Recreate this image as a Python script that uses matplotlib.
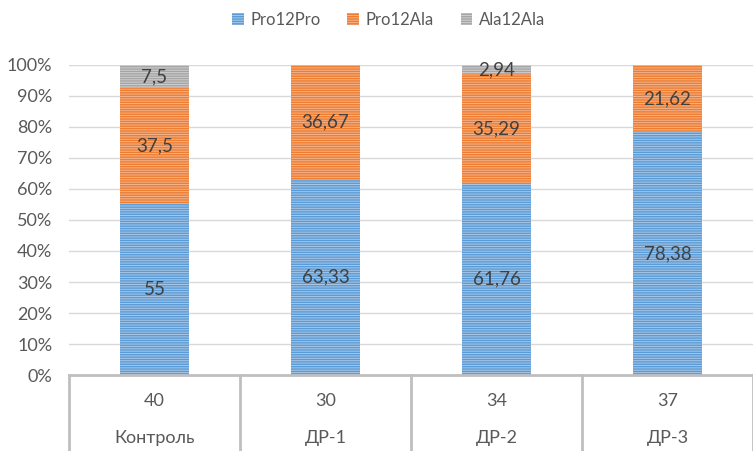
import numpy as np
import matplotlib
matplotlib.use('Agg')
from matplotlib import pyplot as plt

groups = ['Контроль', 'ДР-1', 'ДР-2', 'ДР-3']
counts = ['40', '30', '34', '37']
series = ['Pro12Pro', 'Pro12Ala', 'Ala12Ala']
pro_pro = [55, 63.33, 61.76, 78.38]
pro_ala = [37.5, 36.67, 35.29, 21.62]
ala_ala = [7.5, 0, 2.94, 0]

colors = ['#5B9BD5', '#ED7D31', '#A5A5A5']
stripes = ['#A9C8E8', '#F6B48C', '#CFCFCF']

plt.rcParams['font.family'] = ['Lato', 'DejaVu Sans']
plt.rcParams['hatch.linewidth'] = 0.7

fig = plt.figure(figsize=(7.53, 4.51), dpi=100)
ax = fig.add_axes([0.0916, 0.1685, 0.9084, 0.6874])

x = np.arange(len(groups))
bottom = np.zeros(len(groups))
for name, vals, c, sc in zip(series, [pro_pro, pro_ala, ala_ala], colors, stripes):
    vals = np.array(vals)
    bars = ax.bar(x, vals, 0.4, bottom=bottom, color=c, edgecolor=sc,
                  linewidth=0, hatch='-------', label=name, zorder=2)
    for xi, b, v in zip(x, bottom, vals):
        if v > 0:
            ax.text(xi, b + v / 2, ('%g' % v).replace('.', ','), ha='center',
                    va='center', fontsize=13.5, color='#404040', zorder=3)
    bottom += vals

ax.set_xlim(-0.5, 3.5)
ax.set_ylim(0, 100)
ax.set_yticks(np.arange(0, 101, 10))
ax.set_yticklabels(['%d%%' % t for t in range(0, 101, 10)])
ax.tick_params(axis='y', length=0, labelsize=13, labelcolor='#595959', pad=12)
ax.set_xticks([])
ax.grid(axis='y', color='#D9D9D9', linewidth=1, zorder=0)
for s in ['top', 'right', 'left']:
    ax.spines[s].set_visible(False)
ax.spines['bottom'].set_color('#BFBFBF')
ax.spines['bottom'].set_linewidth(2)

# two-level category axis drawn as a table under the plot
for xb in np.arange(-0.5, 4.0, 1.0):
    ax.plot([xb, xb], [0, -0.25], transform=ax.get_xaxis_transform(),
            color='#BFBFBF', lw=2, clip_on=False)
for xi, c, g in zip(x, counts, groups):
    ax.text(xi, -0.084, c, transform=ax.get_xaxis_transform(), ha='center',
            va='center', fontsize=13, color='#595959')
    ax.text(xi, -0.203, g, transform=ax.get_xaxis_transform(), ha='center',
            va='center', fontsize=13, color='#595959')

fig.legend(loc='center', bbox_to_anchor=(0.516, 0.956), ncol=3, frameon=False,
           fontsize=12, labelcolor='#595959', handlelength=0.7, handleheight=0.7,
           handletextpad=0.4, columnspacing=1.6)

fig.savefig('out.png', dpi=100)
